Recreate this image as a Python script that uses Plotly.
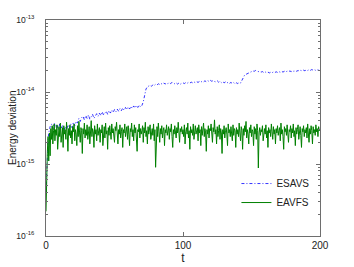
import plotly.graph_objects as go

# ---- data (values in units of 1e-15) ----
SCALE = 1e-15

eavfs_t = [i * 0.5 for i in range(401)]
eavfs_vals = [
    0.22, 0.8, 1.5, 2.4, 1.1, 2.7, 1.3, 3.1, 2.2, 3.4, 1.9, 2.9, 3.6, 2.1, 3.0, 2.5, 3.5, 1.6, 2.8, 3.3,
    2.4, 3.7, 2.0, 2.9, 3.2, 1.7, 3.4, 2.6, 3.0, 2.2, 3.8, 2.7, 1.5, 3.1, 2.5, 3.5, 2.3, 2.9, 1.9, 3.3,
    2.8, 3.6, 2.1, 3.0, 2.6, 1.8, 3.4, 2.4, 3.9, 2.7, 2.0, 3.2, 2.9, 1.4, 3.1, 2.6, 3.7, 2.3, 3.0, 2.5,
    3.5, 2.2, 2.9, 3.3, 1.9, 2.7, 4.0, 2.4, 3.1, 2.8, 1.7, 3.4, 2.6, 3.0, 2.1, 3.6, 2.5, 2.9, 3.2, 2.0,
    3.0, 2.7, 3.5, 1.8, 2.8, 3.3, 2.3, 3.7, 2.6, 2.9, 1.6, 3.2, 2.5, 3.4, 2.8, 2.2, 3.6, 2.7, 3.1, 2.4,
    2.0, 3.3, 2.9, 3.8, 2.5, 1.9, 3.0, 2.6, 3.5, 2.3, 2.8, 3.2, 1.7, 3.0, 2.7, 3.6, 2.4, 2.9, 3.3, 2.2,
    3.4, 2.6, 1.8, 3.1, 2.8, 3.7, 2.4, 3.0, 2.1, 3.5, 2.7, 3.2, 2.5, 1.5, 3.0, 2.8, 3.6, 2.3, 3.1, 2.6,
    2.9, 3.4, 2.0, 3.2, 2.7, 3.8, 2.4, 2.9, 1.9, 3.3, 2.6, 3.0, 3.5, 2.2, 2.8, 3.1, 2.5, 3.6, 2.1, 3.0,
    0.9, 2.7, 3.3, 2.4, 3.7, 2.8, 2.0, 3.1, 2.6, 3.4, 2.3, 2.9, 3.2, 1.8, 3.0, 2.7, 3.5, 2.5, 2.9, 3.3,
    2.2, 3.1, 2.8, 3.6, 2.4, 1.7, 3.0, 2.6, 3.4, 2.9, 2.3, 3.2, 2.7, 3.8, 2.5, 2.0, 3.1, 2.8, 3.3, 2.6,
    3.0, 2.4, 3.5, 1.9, 2.8, 3.2, 2.6, 3.7, 2.3, 2.9, 1.6, 3.3, 2.7, 3.0, 2.5, 3.6, 2.2, 2.9, 3.4, 2.6,
    2.8, 3.2, 2.1, 3.5, 2.7, 3.0, 1.8, 3.3, 2.5, 2.9, 3.7, 2.4, 3.1, 2.7, 1.5, 3.0, 2.6, 3.4, 2.3, 3.1,
    2.9, 3.6, 2.5, 2.0, 3.2, 2.8, 4.1, 2.6, 3.0, 1.9, 3.3, 2.4, 2.9, 3.5, 2.2, 3.1, 2.7, 1.4, 3.0, 2.6,
    3.4, 2.3, 2.9, 3.2, 2.6, 1.8, 3.6, 2.7, 3.0, 2.4, 3.3, 2.8, 2.1, 3.5, 2.5, 3.1, 2.9, 1.7, 3.2, 2.6,
    3.0, 2.4, 3.7, 2.7, 2.1, 3.3, 2.9, 1.6, 3.1, 2.5, 3.4, 2.8, 3.9, 2.3, 3.0, 2.6, 1.9, 3.2, 2.7, 3.5,
    2.4, 3.0, 2.8, 1.8, 3.3, 2.6, 3.1, 2.2, 3.6, 2.9, 0.88, 2.7, 3.2, 2.5, 3.0, 2.8, 3.4, 2.1, 2.9, 3.1,
    2.6, 3.5, 2.3, 2.9, 1.7, 3.2, 2.7, 3.0, 2.4, 3.6, 2.8, 2.2, 3.3, 2.6, 3.0, 1.9, 3.1, 2.7, 3.4, 2.5,
    2.9, 3.2, 2.1, 3.7, 2.6, 3.0, 2.4, 1.6, 3.3, 2.8, 3.1, 2.5, 3.5, 2.7, 2.0, 3.0, 2.8, 3.4, 2.3, 3.1,
    2.7, 3.6, 2.4, 2.9, 1.8, 3.2, 2.6, 3.0, 3.5, 2.2, 2.9, 3.3, 2.5, 1.7, 3.1, 2.8, 3.4, 2.4, 3.0, 2.7,
    3.2, 2.3, 3.6, 2.8, 2.0, 3.1, 2.6, 3.4, 2.9, 1.9, 3.3, 2.7, 3.0, 2.5, 3.5, 2.8, 3.1, 2.4, 3.3, 2.9,
    3.0,
]

esavs_t = [0, 0.5, 1, 1.5, 2, 2.5] + list(range(3, 201))
esavs_vals = [
    0.4, 0.9, 1.6, 2.2, 2.7, 3.0,
    3.3, 3.6, 3.1, 3.7, 3.2, 3.5, 3.0, 3.6, 3.1, 3.4,
    2.9, 3.3, 3.0, 3.5, 3.1, 3.6, 3.2, 3.8, 3.4, 3.9,
    3.7, 4.3, 3.9, 4.4, 4.6, 4.1, 4.7, 4.3, 4.8, 4.2,
    4.6, 4.9, 4.3, 4.7, 5.0, 4.6, 5.1, 4.7, 5.3, 4.8,
    5.2, 5.4, 4.9, 5.5, 5.1, 5.6, 5.2, 5.7, 5.3, 5.8,
    5.4, 5.9, 5.5, 6.0, 5.6, 6.1, 5.7, 6.2, 5.8, 6.3,
    5.9, 6.4, 6.0, 6.5, 6.1, 6.6, 6.2, 6.5, 7.3, 9.0,
    11.0, 11.8, 12.0, 12.4, 12.0, 12.6, 12.3, 12.8, 12.5, 13.0,
    12.7, 13.1, 12.8, 13.3, 12.9, 13.4, 13.0, 13.5, 13.1, 13.6,
    13.4, 13.0, 13.4, 12.9, 13.3, 12.8, 13.2, 13.4, 13.1, 13.5,
    13.2, 13.6, 13.3, 13.7, 13.4, 13.8, 13.5, 13.9, 13.6, 14.0,
    13.7, 14.1, 13.8, 14.3, 13.9, 14.4, 14.0, 14.5, 14.1, 14.4,
    14.0, 13.8, 14.3, 13.7, 14.1, 13.5, 13.9, 13.4, 13.8, 13.3,
    13.7, 13.2, 13.6, 13.1, 13.5, 13.0, 13.4, 13.1, 13.5, 13.3,
    14.5, 16.2, 17.2, 17.6, 18.0, 18.4, 18.8, 19.3, 19.6, 19.4,
    19.9, 19.4, 19.3, 18.9, 18.9, 19.2, 18.6, 19.0, 18.5, 18.9,
    18.4, 18.8, 18.5, 19.0, 18.6, 19.1, 18.7, 19.2, 18.8, 19.3,
    18.9, 19.4, 19.0, 19.5, 19.1, 19.6, 19.2, 19.7, 19.3, 19.8,
    19.4, 19.9, 19.5, 20.0, 19.6, 20.1, 19.7, 20.3, 19.9, 20.4,
    20.0, 20.5, 20.1, 20.4, 19.9, 20.3, 19.8, 19.8,
]

y_tickvals = [1e-16, 1e-15, 1e-14, 1e-13]
y_ticktext = ["10<sup>-16</sup>", "10<sup>-15</sup>", "10<sup>-14</sup>", "10<sup>-13</sup>"]
y_minor_mantissas = [2, 3, 4, 5, 6, 7, 8, 9]
x_tickvals = [0, 100, 200]
y_title = "Energy deviation"
x_title = "t"

FONT = "Liberation Sans, Arial, sans-serif"
AXIS_COLOR = "#6e6e6e"

y_minor_vals = [m * d for d in [1e-16, 1e-15, 1e-14] for m in y_minor_mantissas]

fig = go.Figure()
fig.add_trace(go.Scatter(
    x=esavs_t, y=[v * SCALE for v in esavs_vals], mode="lines", name="ESAVS",
    line=dict(color="#0000ff", width=0.8, dash="3px,2px,1px,2px"),
))
fig.add_trace(go.Scatter(
    x=eavfs_t, y=[v * SCALE for v in eavfs_vals], mode="lines", name="EAVFS",
    line=dict(color="#008000", width=1),
))

fig.update_layout(
    width=354, height=267,
    margin=dict(l=46, r=34, t=20, b=31, autoexpand=False),
    paper_bgcolor="white", plot_bgcolor="white",
    font=dict(family=FONT, size=10, color="#222"),
    showlegend=True,
    legend=dict(x=0.695, y=0.31, xanchor="left", yanchor="top",
                bgcolor="rgba(0,0,0,0)", font=dict(size=10),
                itemwidth=30, tracegroupgap=0),
    annotations=[dict(
        text=y_title, textangle=-90, xref="paper", yref="paper",
        x=0, y=0.5, xshift=-34, xanchor="center", yanchor="middle",
        showarrow=False, font=dict(size=10, color="#222"),
    )],
)
fig.update_xaxes(
    range=[0, 200], tickvals=x_tickvals, ticks="inside", ticklen=4,
    showline=True, linecolor=AXIS_COLOR, linewidth=1, mirror="ticks",
    tickcolor=AXIS_COLOR, showgrid=False, zeroline=False, automargin=False,
    title=dict(text=x_title, standoff=2), tickfont=dict(size=10),
)
fig.update_yaxes(
    type="log", range=[-16, -13], tickvals=y_tickvals, ticktext=y_ticktext,
    ticks="inside", ticklen=4, showline=True, linecolor=AXIS_COLOR, linewidth=1,
    mirror="ticks", tickcolor=AXIS_COLOR, showgrid=False, zeroline=False, automargin=False,
    ticklabelstandoff=9,
    minor=dict(tickmode="array", tickvals=y_minor_vals, ticks="inside", ticklen=2,
               tickcolor=AXIS_COLOR, showgrid=False),
    tickfont=dict(size=8.5),
)

# remove the page's default 8px body margin so the figure fills the window
fig.write_html("out.html", config={"displayModeBar": False},
               post_script="document.body.style.margin='0';")
